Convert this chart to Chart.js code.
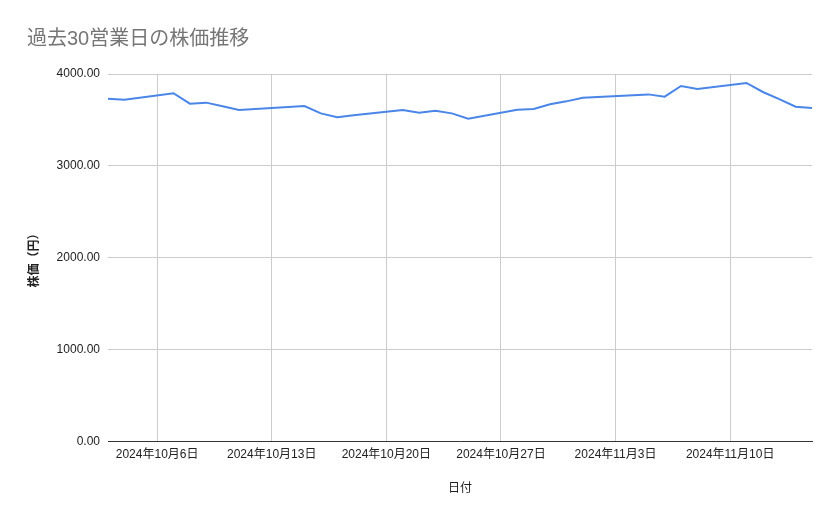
<!DOCTYPE html>
<html>
<head>
<meta charset="utf-8">
<script src="https://cdn.jsdelivr.net/npm/chart.js@4"></script>
<style>
    body { margin: 0; background: #fff; }
    #wrap { width: 839px; height: 519px; }
</style>
</head>
<body>
<div id="wrap"><canvas id="stockChart"></canvas></div>
<script>
// 過去30営業日の終値
const dates = [
    '2024-10-03', '2024-10-04', '2024-10-07', '2024-10-08', '2024-10-09', '2024-10-10', '2024-10-11',
    '2024-10-15', '2024-10-16', '2024-10-17', '2024-10-18',
    '2024-10-21', '2024-10-22', '2024-10-23', '2024-10-24', '2024-10-25',
    '2024-10-28', '2024-10-29', '2024-10-30', '2024-10-31', '2024-11-01',
    '2024-11-05', '2024-11-06', '2024-11-07', '2024-11-08',
    '2024-11-11', '2024-11-12', '2024-11-13', '2024-11-14', '2024-11-15'
];
const prices = [
    3731, 3720, 3790, 3677, 3688, 3648, 3608,
    3651, 3571, 3528, 3550,
    3608, 3579, 3600, 3571, 3513,
    3611, 3618, 3670, 3702, 3742,
    3778, 3753, 3869, 3837,
    3902, 3804, 3727, 3644, 3629
];
const tickDates = ['2024-10-06', '2024-10-13', '2024-10-20', '2024-10-27', '2024-11-03', '2024-11-10'];
const yTicks = [0, 1000, 2000, 3000, 4000];

const FONT = "Arial, 'Liberation Sans', 'Noto Sans CJK JP', sans-serif";

const toDay = (s) => {
    const [y, m, d] = s.split('-').map(Number);
    return Date.UTC(y, m - 1, d) / 86400000;
};
const fmtDay = (v) => {
    const dt = new Date(v * 86400000);
    return `${dt.getUTCFullYear()}年${dt.getUTCMonth() + 1}月${dt.getUTCDate()}日`;
};

const points = dates.map((d, i) => ({ x: toDay(d), y: prices[i] }));

const ctx = document.getElementById('stockChart').getContext('2d');
new Chart(ctx, {
    type: 'line',
    data: {
        datasets: [{
            label: '株価',
            data: points,
            borderColor: '#4a86e8',
            borderWidth: 2,
            pointRadius: 0,
            tension: 0,
            fill: false
        }]
    },
    options: {
        responsive: true,
        maintainAspectRatio: false,
        animation: false,
        layout: {
            padding: { left: 27, right: 27, top: 0, bottom: 15 }
        },
        scales: {
            x: {
                type: 'linear',
                min: toDay(dates[0]),
                max: toDay(dates[dates.length - 1]),
                afterBuildTicks: (scale) => {
                    scale.ticks = tickDates.map(d => ({ value: toDay(d) }));
                },
                ticks: {
                    callback: (value) => fmtDay(value),
                    color: '#222',
                    padding: 6,
                    maxRotation: 0,
                    font: { family: FONT, size: 12 }
                },
                grid: {
                    color: '#cccccc',
                    drawTicks: false
                },
                border: {
                    display: true,
                    color: '#333',
                    width: 1
                },
                title: {
                    display: true,
                    text: '日付',
                    color: '#222',
                    padding: { top: 14, bottom: 8 },
                    font: { family: FONT, size: 12 }
                }
            },
            y: {
                min: 0,
                max: 4000,
                afterBuildTicks: (scale) => {
                    scale.ticks = yTicks.map(v => ({ value: v }));
                },
                afterFit: (scale) => {
                    scale.width = 81;
                },
                ticks: {
                    callback: (value) => value.toFixed(2),
                    color: '#222',
                    padding: 8,
                    font: { family: FONT, size: 12 }
                },
                grid: {
                    color: '#cccccc',
                    drawTicks: false
                },
                border: {
                    display: false
                },
                title: {
                    display: true,
                    text: '株価（円）',
                    color: '#222',
                    padding: { top: 0, bottom: 4 },
                    font: { family: FONT, size: 12, weight: 'bold' }
                }
            }
        },
        plugins: {
            legend: { display: false },
            tooltip: { enabled: false },
            title: {
                display: true,
                text: '過去30営業日の株価推移',
                align: 'start',
                color: '#757575',
                padding: { top: 27, bottom: 23 },
                font: { family: FONT, size: 20, weight: 'normal' }
            }
        }
    }
});
</script>
</body>
</html>
